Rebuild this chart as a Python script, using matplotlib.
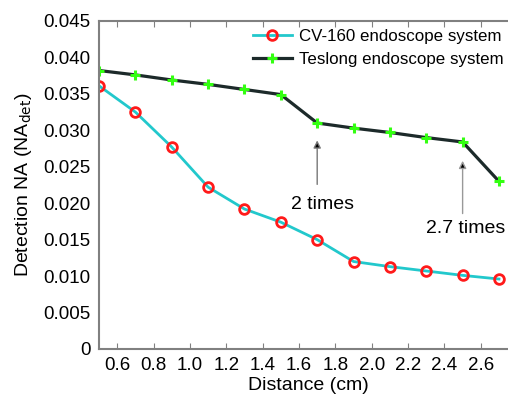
import matplotlib.pyplot as plt

plt.rcParams["font.family"] = ["Liberation Sans", "DejaVu Sans"]

# Data
distance = [0.5, 0.7, 0.9, 1.1, 1.3, 1.5, 1.7, 1.9, 2.1, 2.3, 2.5, 2.7]
cv160 = [0.0361, 0.0325, 0.0277, 0.0222, 0.0192, 0.0174, 0.0150, 0.0120, 0.0113, 0.0107, 0.0101, 0.0096]
teslong = [0.0382, 0.0376, 0.0369, 0.0363, 0.0356, 0.0349, 0.0310, 0.0303, 0.0297, 0.0290, 0.0284, 0.0230]
x_ticks = [0.6, 0.8, 1.0, 1.2, 1.4, 1.6, 1.8, 2.0, 2.2, 2.4, 2.6]
y_ticks = [0, 0.005, 0.010, 0.015, 0.020, 0.025, 0.030, 0.035, 0.040, 0.045]
y_labels = ["0", "0.005", "0.010", "0.015", "0.020", "0.025", "0.030", "0.035", "0.040", "0.045"]

fig = plt.figure(figsize=(5.08, 4.03), dpi=100)
ax = fig.add_axes([0.195, 0.134, 0.823, 0.814])

ax.plot(distance, cv160, color="#22c8cc", linewidth=2, marker="o", markersize=7,
        markerfacecolor="none", markeredgecolor="#ff1a1a", markeredgewidth=2,
        label="CV-160 endoscope system")
ax.plot(distance, teslong, color="#1c2a2a", linewidth=2.3, marker="+", markersize=7,
        markeredgecolor="#33ff11", markeredgewidth=2.2,
        label="Teslong endoscope system")

# ratio annotations
ax.annotate("", xy=(1.7, 0.0290), xytext=(1.7, 0.0222),
            arrowprops=dict(arrowstyle="-|>", lw=1, mutation_scale=11,
                            fc="black", ec="#777777"))
ax.text(1.73, 0.0198, "2 times", ha="center", va="center", fontsize=14)
ax.annotate("", xy=(2.5, 0.0262), xytext=(2.5, 0.0182),
            arrowprops=dict(arrowstyle="-|>", lw=1, mutation_scale=11,
                            fc="black", ec="#999999"))
ax.text(2.515, 0.0165, "2.7 times", ha="center", va="center", fontsize=14)

ax.set_xlim(0.5, 2.8)
ax.set_ylim(0, 0.045)
ax.set_xticks(x_ticks)
ax.set_xticklabels([f"{t:.1f}" for t in x_ticks])
ax.set_yticks(y_ticks)
ax.set_yticklabels(y_labels)
ax.tick_params(axis="x", direction="in", length=4, top=True, labelsize=13.5, color="#808080", pad=6)
ax.tick_params(axis="y", length=0, labelsize=13.5, pad=6)
for side in ["left", "bottom", "top"]:
    ax.spines[side].set_color("#808080")
    ax.spines[side].set_linewidth(1.5)
ax.spines["right"].set_visible(False)

ax.set_xlabel("Distance (cm)", fontsize=14, labelpad=2)
ax.set_ylabel("Detection NA (NA$_{\\mathrm{det}}$)", fontsize=14, labelpad=7)

ax.legend(loc="upper left", bbox_to_anchor=(0.352, 0.995), frameon=False, fontsize=12.2,
          handlelength=2.3, borderaxespad=0, labelspacing=0.45, handletextpad=0.4)

plt.savefig("out.png", dpi=100)
